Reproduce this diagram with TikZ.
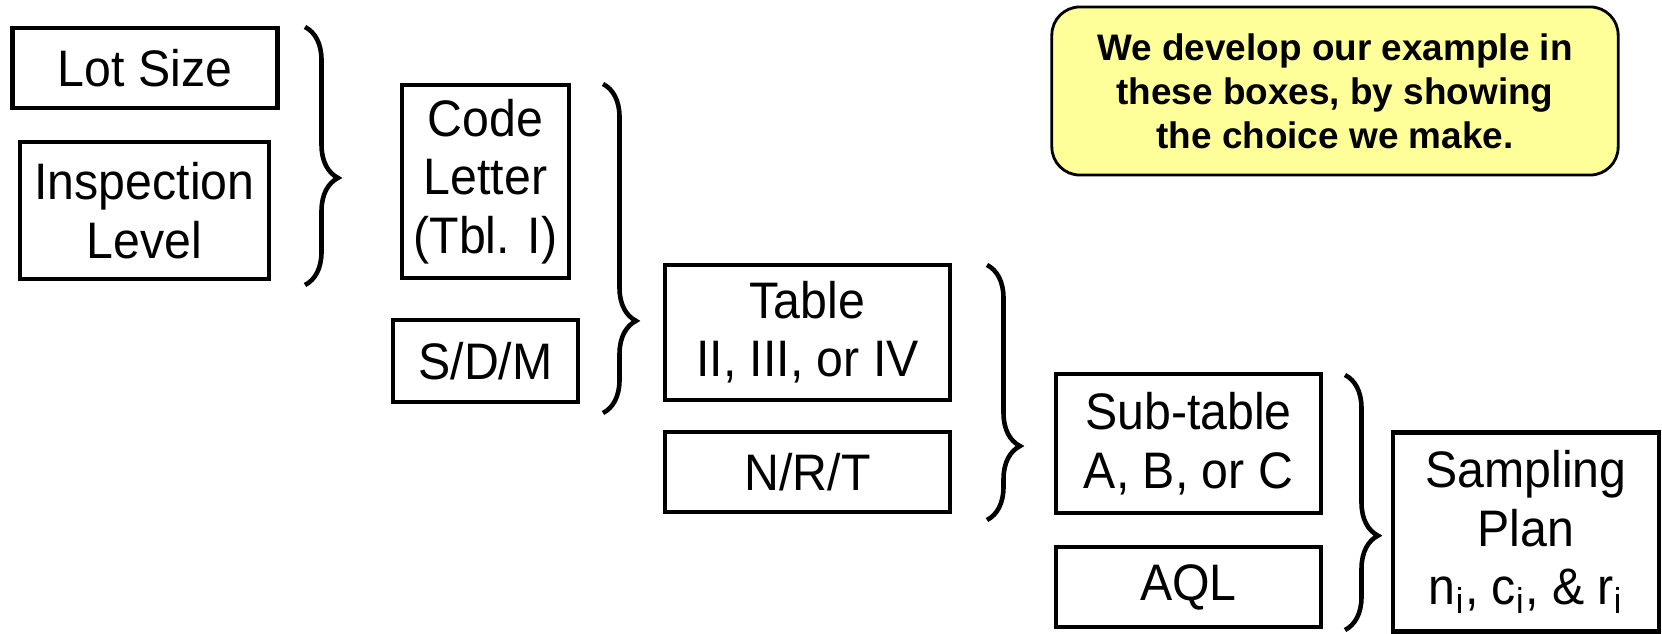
\documentclass[tikz,border=0pt]{standalone}
\usepackage{fontspec}
\setmainfont{Liberation Sans}
\newfontfamily\boxfont{Liberation Sans}[FakeStretch=0.94]
\usepackage{xcolor}
\usetikzlibrary{decorations.pathreplacing}
\definecolor{notefill}{HTML}{FFFF99}

\begin{document}
\begin{tikzpicture}[x=0.01cm,y=-0.01cm,
  stepbox/.style={draw,line width=1.2pt,inner sep=0pt,align=center,
    font=\boxfont\fontsize{14.6}{16.6}\selectfont},
  notebox/.style={draw,line width=0.8pt,fill=notefill,rounded corners=0.28cm,
    inner sep=0pt,align=center,font=\fontsize{10.5}{12.5}\selectfont\bfseries},
  curly/.style={line width=1.3pt,decorate,
    decoration={brace,amplitude=0.33cm,aspect=#1}}]
\useasboundingbox (0,0) rectangle (1662,634);

% first column
\node[stepbox,minimum width=2.65cm,minimum height=0.8cm] (lot) at (145,68) {Lot Size};
\node[stepbox,minimum width=2.49cm,minimum height=1.37cm] (insp) at (144.5,210.5) {Inspection\\Level};
\draw[curly=0.585] (305,27) -- (305,285);

% code letter
\node[stepbox,minimum width=1.67cm,minimum height=1.93cm] (code) at (485.5,181.5) {Code\\Letter\\(Tbl. I)};
\node[stepbox,minimum width=1.85cm,minimum height=0.82cm] (sdm) at (485.5,361) {S/D/M};
\draw[curly=0.72] (603,84) -- (603,413);

% master table
\node[stepbox,minimum width=2.85cm,minimum height=1.35cm] (tbl) at (807.5,332.5) {Table\\II, III, or IV};
\node[stepbox,minimum width=2.85cm,minimum height=0.8cm] (nrt) at (807.5,472) {N/R/T};
\draw[curly=0.71] (987,265) -- (987,520);

% sub-table
\node[stepbox,minimum width=2.65cm,minimum height=1.39cm] (sub) at (1188.5,443.5) {Sub-table\\A, B, or C};
\node[stepbox,minimum width=2.65cm,minimum height=0.8cm] (aql) at (1188.5,587) {AQL};
\draw[curly=0.63] (1345,375) -- (1345,630);

% result
\node[stepbox,minimum width=2.66cm,minimum height=1.99cm] (plan) at (1526,532)
  {Sampling\\Plan\\n\textsubscript{i}, c\textsubscript{i}, \& r\textsubscript{i}};

\node[notebox,minimum width=5.66cm,minimum height=1.68cm] (note) at (1335,91)
  {We develop our example in\\these boxes, by showing\\the choice we make.};
\end{tikzpicture}
\end{document}
